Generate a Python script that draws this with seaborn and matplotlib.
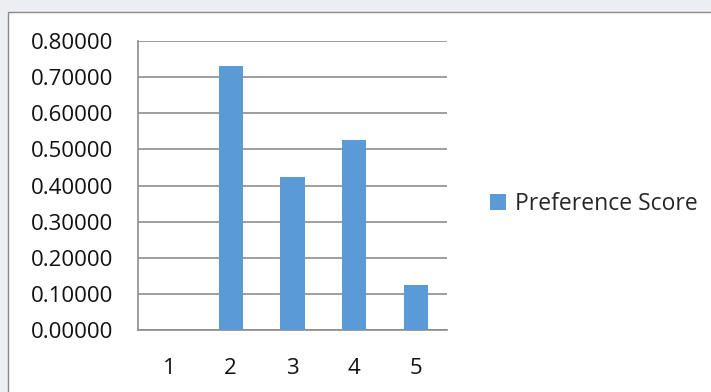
import matplotlib
matplotlib.use('Agg')
import matplotlib.pyplot as plt
import matplotlib.ticker as mticker
from matplotlib.patches import Rectangle
import seaborn as sns

# data
ranks = ['1', '2', '3', '4', '5']
scores = [0.0, 0.731, 0.4235, 0.525, 0.1246]
series_name = 'Preference Score'

sns.set_style('white')
plt.rcParams['font.family'] = ['Open Sans', 'DejaVu Sans']

fig = plt.figure(figsize=(7.11, 3.92), dpi=100, facecolor='#eceef1')

# white chart area with thin grey border (excel style)
fig.add_artist(Rectangle((8 / 711, -0.05), 1.0, 1 - 12 / 392 + 0.05,
                         transform=fig.transFigure, facecolor='white',
                         edgecolor='#8a8a8a', lw=1.0, zorder=0))

ax = fig.add_axes([138 / 711, 1 - 330 / 392, (447 - 138) / 711, (330 - 41) / 392])
ax.set_facecolor('none')

sns.barplot(x=ranks, y=scores, color='#5b9bd5', width=0.39, saturation=1,
            label=series_name, linewidth=0, ax=ax, zorder=3)

ax.set_xlim(-0.5, 4.5)
ax.set_ylim(0, 0.8)
ax.yaxis.set_major_locator(mticker.MultipleLocator(0.1))
ax.yaxis.set_major_formatter(mticker.FuncFormatter(lambda v, p: f'{v:.5f}'))
ax.set_xlabel('')
ax.set_ylabel('')

ax.grid(axis='y', color='#8c8c8c', lw=1.2, zorder=0)
ax.set_axisbelow(True)
for s in ['top', 'right']:
    ax.spines[s].set_visible(False)
for s in ['left', 'bottom']:
    ax.spines[s].set_color('#8c8c8c')
    ax.spines[s].set_linewidth(1.2)

# category boundary ticks on the x axis
ax.set_xticks([i + 0.5 for i in range(-1, 5)], minor=True)
ax.tick_params(axis='x', which='minor', length=7, width=1.2, color='#8c8c8c', direction='out')
ax.tick_params(axis='x', which='major', length=0, pad=20, labelsize=16, labelcolor='#111111')
ax.tick_params(axis='y', length=7, width=1.2, color='#8c8c8c', direction='out',
               labelsize=16, labelcolor='#111111', pad=11)

ax.legend(loc='center left', bbox_to_anchor=(490 / 711, 1 - 204 / 392),
          bbox_transform=fig.transFigure, frameon=False, fontsize=16.5,
          handlelength=0.7, handleheight=0.7, handletextpad=0.4,
          borderpad=0, borderaxespad=0)

fig.savefig('out.png', dpi=100, facecolor=fig.get_facecolor())
